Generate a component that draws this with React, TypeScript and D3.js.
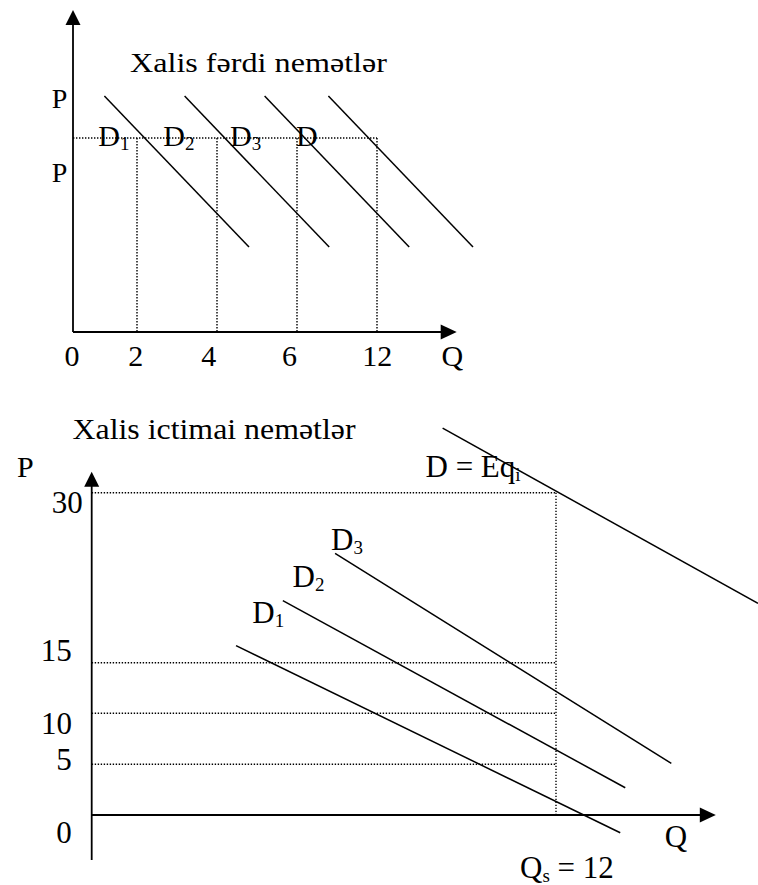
import * as d3 from "d3";
import React from "react";

// ---- top panel: private goods ----
const topTitle = "Xalis fərdi nemətlər";
const topCurveSub = ["1", "2", "3", ""];
const topCurveQ0 = [1.57, 5.58, 9.58, 12.77];
const topCurveQ1 = [8.8, 12.81, 16.81, 20.0];
const topCurveP0 = [11.8, 11.8, 11.8, 11.8];
const topCurveP1 = [4.25, 4.25, 4.25, 4.25];
const topCurveLabelQ = [1.265, 4.515, 7.85, 11.15];
const topPrice = 9.7;
const topQMarks = [3.2, 7.2, 11.2, 15.2];
const topTickLabels = ["0", "2", "4", "6", "12", "Q"];
const topTickAt = [-0.05, 3.135, 6.79, 10.825, 15.215, 18.965];
const topPLabelAt = [11.19, 7.52];
const topAxisMax = { q: 19.185, p: 16.1 };

// ---- bottom panel: public goods ----
const botTitle = "Xalis ictimai nemətlər";
const botCurveSub = ["1", "2", "3"];
const botCurveQ0 = [3.73, 4.94, 6.29];
const botCurveP0 = [16.5, 20.47, 24.65];
const botCurveQ1 = [13.66, 13.79, 14.98];
const botCurveP1 = [-1.75, 2.69, 5.1];
const botLabelQ = [4.15, 5.19, 6.185];
const botLabelP = [18.48, 21.7, 24.94];
const botSumQ = [9.07, 17.22];
const botSumP = [35.7, 20.24];
const botPriceLevels = [5, 10, 15, 30];
const botQs = 12;
const botTickLabels = ["30", "15", "10", "5", "0"];
const botTickValues = [30, 15, 10, 5, 0];
const botAxis = { qMax: 16.13, pMax: 31.85, pMin: -4.44 };

const FONT = "'Liberation Serif', 'Times New Roman', serif";
const dotted = { stroke: "#000", strokeWidth: 1.4, strokeDasharray: "1.4 1.6" };

export default function App() {
  // top scales
  const tx = d3.scaleLinear().domain([0, 20]).range([73, 473]);
  const ty = d3.scaleLinear().domain([0, 16]).range([332, 12]);
  // bottom scales (sketch: price axis is not evenly spaced)
  const bx = d3.scaleLinear().domain([0, 12]).range([91.7, 556]);
  const by = d3.scaleLinear().domain([0, 5, 10, 15, 30]).range([815, 764.3, 713.3, 662.7, 492.7]);

  const arrowUp = (x: number, y: number) => `${x},${y} ${x - 7.5},${y + 15} ${x + 7.5},${y + 15}`;
  const arrowRight = (x: number, y: number) => `${x},${y} ${x - 16},${y - 7.5} ${x - 16},${y + 7.5}`;

  const tickDy = [20.6, -2, 20.7, 5.7, 28.3];
  const tickRight = [82.7, 71.7, 72, 71.7, 71.7];

  return (
    <svg
      width={758}
      height={885}
      style={{ position: "absolute", left: 0, top: 0, background: "#fff" }}
      fontFamily={FONT}
      fill="#000"
    >
      {/* ===== top panel ===== */}
      <g>
        <text x={130} y={71.7} fontSize={28} textLength={257} lengthAdjust="spacingAndGlyphs">
          {topTitle}
        </text>
        {/* dotted price level and quantities */}
        <line x1={tx(0)} x2={tx(topQMarks[3])} y1={ty(topPrice)} y2={ty(topPrice)} {...dotted} />
        {topQMarks.map((q, i) => (
          <line key={i} x1={tx(q)} x2={tx(q)} y1={ty(topPrice)} y2={ty(0)} {...dotted} />
        ))}
        {/* demand curves */}
        {topCurveQ0.map((q, i) => (
          <line
            key={i}
            x1={tx(q)}
            y1={ty(topCurveP0[i])}
            x2={tx(topCurveQ1[i])}
            y2={ty(topCurveP1[i])}
            stroke="#000"
            strokeWidth={1.5}
          />
        ))}
        {topCurveSub.map((s, i) => (
          <text key={i} x={tx(topCurveLabelQ[i])} y={ty(topPrice) + 7.5} fontSize={30}>
            D
            {s && (
              <tspan fontSize={19} dy={4}>
                {s}
              </tspan>
            )}
          </text>
        ))}
        {/* axes */}
        <line x1={tx(0)} x2={tx(0)} y1={ty(0)} y2={ty(topAxisMax.p) + 10} stroke="#000" strokeWidth={1.8} />
        <polygon points={arrowUp(tx(0), ty(topAxisMax.p))} />
        <line x1={tx(0)} x2={tx(topAxisMax.q) - 10} y1={ty(0)} y2={ty(0)} stroke="#000" strokeWidth={1.8} />
        <polygon points={arrowRight(tx(topAxisMax.q), ty(0))} />
        {topPLabelAt.map((p, i) => (
          <text key={i} x={51.7} y={ty(p)} fontSize={28}>
            P
          </text>
        ))}
        {topTickLabels.map((t, i) => (
          <text key={t} x={tx(topTickAt[i])} y={ty(0) + 34} fontSize={30} textAnchor="middle">
            {t}
          </text>
        ))}
      </g>

      {/* ===== bottom panel ===== */}
      <g>
        <text x={72.5} y={439.3} fontSize={29} textLength={283} lengthAdjust="spacingAndGlyphs">
          {botTitle}
        </text>
        <text x={17} y={476.7} fontSize={30}>
          P
        </text>
        {botPriceLevels.map((p) => (
          <line key={p} x1={bx(0)} x2={bx(botQs)} y1={by(p)} y2={by(p)} {...dotted} />
        ))}
        <line x1={bx(botQs)} x2={bx(botQs)} y1={by(30)} y2={by(0)} {...dotted} />
        {/* individual demand curves */}
        {botCurveQ0.map((q, i) => (
          <line
            key={i}
            x1={bx(q)}
            y1={by(botCurveP0[i])}
            x2={bx(botCurveQ1[i])}
            y2={by(botCurveP1[i])}
            stroke="#000"
            strokeWidth={1.5}
          />
        ))}
        {botCurveSub.map((s, i) => (
          <text key={s} x={bx(botLabelQ[i])} y={by(botLabelP[i])} fontSize={31}>
            D
            <tspan fontSize={19} dy={4}>
              {s}
            </tspan>
          </text>
        ))}
        {/* summed demand */}
        <line
          x1={bx(botSumQ[0])}
          y1={by(botSumP[0])}
          x2={bx(botSumQ[1])}
          y2={by(botSumP[1])}
          stroke="#000"
          strokeWidth={1.5}
        />
        <text x={425.5} y={476.7} fontSize={31}>
          D = Eq
          <tspan fontSize={19} dy={4}>
            i
          </tspan>
        </text>
        {/* axes */}
        <line x1={bx(0)} x2={bx(0)} y1={by(botAxis.pMin)} y2={by(botAxis.pMax) + 10} stroke="#000" strokeWidth={1.8} />
        <polygon points={arrowUp(bx(0), by(botAxis.pMax))} />
        <line x1={bx(0)} x2={bx(botAxis.qMax) - 10} y1={by(0)} y2={by(0)} stroke="#000" strokeWidth={1.8} />
        <polygon points={arrowRight(bx(botAxis.qMax), by(0))} />
        {botTickLabels.map((t, i) => (
          <text key={t} x={tickRight[i]} y={by(botTickValues[i]) + tickDy[i]} fontSize={31} textAnchor="end">
            {t}
          </text>
        ))}
        <text x={676} y={846.7} fontSize={31} textAnchor="middle">
          Q
        </text>
        <text x={520} y={878.3} fontSize={31}>
          Q
          <tspan fontSize={19} dy={4}>
            s
          </tspan>
          <tspan dy={-4}> = 12</tspan>
        </text>
      </g>
    </svg>
  );
}
